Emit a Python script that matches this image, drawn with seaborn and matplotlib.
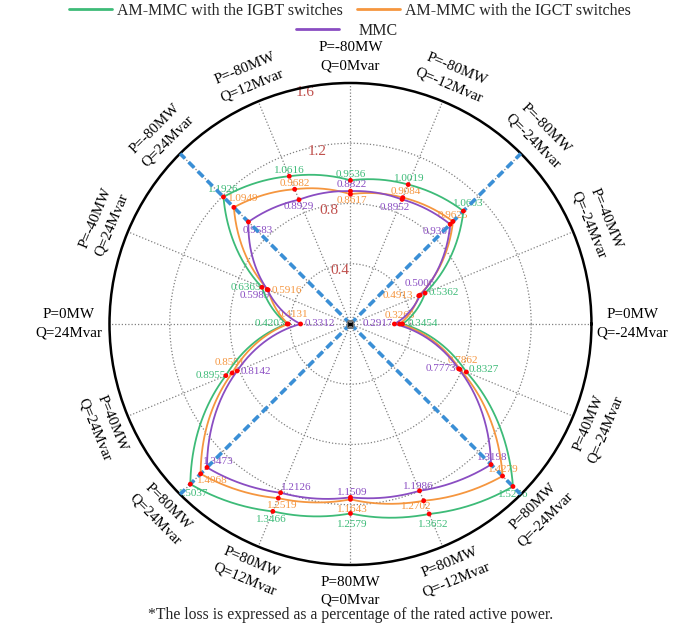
import numpy as np
import pandas as pd
import matplotlib
matplotlib.use("Agg")
import matplotlib.pyplot as plt
from matplotlib.lines import Line2D
import seaborn as sns

# Operating points, counter-clockwise starting at the east spoke
angles_deg = [0, 22.5, 45, 67.5, 90, 112.5, 135, 157.5,
              180, 202.5, 225, 247.5, 270, 292.5, 315, 337.5]
p_values = ["0", "-40", "-80", "-80", "-80", "-80", "-80", "-40",
            "0", "40", "80", "80", "80", "80", "80", "40"]
q_values = ["-24", "-24", "-24", "-12", "0", "12", "24", "24",
            "24", "24", "24", "12", "0", "-12", "-24", "-24"]

# Converter losses (% of rated active power)
loss_igbt = [0.3454, 0.5362, 1.0603, 1.0019, 0.9536, 1.0616, 1.1926, 0.6363,
             0.4203, 0.8955, 1.5037, 1.3466, 1.2579, 1.3652, 1.5256, 0.8327]
loss_igct = [0.3263, 0.4913, 0.9625, 0.9084, 0.8617, 0.9682, 1.0949, 0.5916,
             0.4131, 0.8501, 1.4068, 1.2519, 1.1643, 1.2702, 1.4279, 0.7862]
loss_mmc = [0.2917, 0.5006, 0.9361, 0.8952, 0.8822, 0.8929, 0.9583, 0.5989,
            0.3312, 0.8142, 1.3473, 1.2126, 1.1509, 1.1986, 1.3198, 0.7773]

series_names = ["AM-MMC with the IGBT switches",
                "AM-MMC with the IGCT switches",
                "MMC"]
series_values = [loss_igbt, loss_igct, loss_mmc]
colors = ["#3DBB78", "#F5963F", "#8A4DC2"]

r_ticks = [0.4, 0.8, 1.2, 1.6]

# Value-label offsets in pixels (right, up) for each series and spoke
label_offsets = [
    [(20, 0), (19, 1), (5, 8), (1, 6), (0, 6), (0, 6), (0, 7), (-16, 0),
     (-17, 0), (-15, 0), (3, -9), (-1, -8), (2, -11), (4, -11), (0, -8), (17, 2)],
    [(0, 8), (-21, 0), (0, 6), (3, 6), (1, -6), (0, 6), (9, 9), (19, -1),
     (5, 9), (-2, 10), (12, -7), (4, -7), (2, -10), (-7, -6), (1, 7), (3, 9)],
    [(-17, 0), (0, 12), (-12, -7), (-7, -8), (1, 7), (0, -7), (9, -9), (-12, -6),
     (19, 0), (19, -1), (11, 6), (16, 5), (2, 5), (-1, 4), (1, 7), (-18, 0)],
]

sns.set_theme(style="white")
plt.rcParams["font.family"] = ["Liberation Serif", "DejaVu Serif"]

fig = plt.figure(figsize=(6.96, 6.24), dpi=100)
ax = fig.add_axes([0.1573, 0.0946, 0.6925, 0.7724], projection="polar")

theta = np.deg2rad(angles_deg)

# Closed loops for each converter
frames = []
for name, vals in zip(series_names, series_values):
    t = np.append(theta, theta[0] + 2 * np.pi)
    r = np.append(vals, vals[0])
    frames.append(pd.DataFrame({"theta": t, "loss": r, "series": name}))
df = pd.concat(frames, ignore_index=True)

sns.lineplot(data=df, x="theta", y="loss", hue="series", hue_order=series_names,
             palette=colors, sort=False, estimator=None, legend=False,
             linewidth=1.3, ax=ax, zorder=4)
# follow the polar coordinates between operating points (spiral arcs)
for ln in ax.lines:
    ln.get_path()._interpolation_steps = 60

pts = pd.DataFrame({"theta": np.tile(theta, 3),
                    "loss": np.concatenate(series_values)})
sns.scatterplot(data=pts, x="theta", y="loss", color="#FF0000", s=12,
                edgecolor="none", legend=False, ax=ax, zorder=6)

# Diagonal reference lines
for a in [45, 135, 225, 315]:
    ax.plot([np.deg2rad(a)] * 2, [0, r_ticks[-1]], color="#3A8FD6", lw=2.6,
            linestyle=(0, (2.2, 1.4)), zorder=3, solid_capstyle="butt")

ax.plot([0], [0], marker="s", color="black", ms=5, mec="#777777", zorder=7)

ax.set_ylim(0, r_ticks[-1])
ax.set_xticks(theta)
ax.set_xticklabels([])
ax.set_yticks(r_ticks)
ax.set_yticklabels([])
ax.grid(True, color="#808080", linestyle=(0, (1, 1.6)), linewidth=0.9)
ax.spines["polar"].set_linewidth(1.8)
ax.spines["polar"].set_color("black")
ax.set_xlabel("")
ax.set_ylabel("")

# Radial scale labels, just inside each ring
for v in r_ticks:
    ax.text(np.deg2rad(101), v - 0.035, f"{v:.1f}", ha="center", va="center",
            fontsize=11, color="#C0504D", zorder=2)

# Value labels
for vals, offs, c in zip(series_values, label_offsets, colors):
    for t, v, (dx, dy) in zip(theta, vals, offs):
        ax.annotate(f"{v:.4f}", xy=(t, v), xytext=(dx, dy),
                    textcoords="offset pixels", ha="center", va="center",
                    fontsize=8, color=c, zorder=2)

# Operating point labels around the circle
for a, p, q in zip(angles_deg, p_values, q_values):
    a_n = a if a <= 180 else a - 360
    if a_n in (0, 180, 90, -90):
        rot = 0
    elif a_n > 0:
        rot = a_n - 90
    else:
        rot = a_n + 90
    rr = 1.87 if a_n in (0, 180) else 1.775
    ax.text(np.deg2rad(a), rr, f"P={p}MW\nQ={q}Mvar", rotation=rot,
            rotation_mode="anchor", ha="center", va="center",
            fontsize=10.8, linespacing=1.5, color="black")

# Legend split over two centred rows
h1 = [Line2D([], [], color=colors[0], lw=2), Line2D([], [], color=colors[1], lw=2)]
fig.legend(h1, series_names[:2], loc="center", bbox_to_anchor=(0.503, 0.983),
           ncol=2, frameon=False, fontsize=11.5, handlelength=2.7,
           handletextpad=0.3, columnspacing=0.9, borderpad=0, borderaxespad=0)
h2 = [Line2D([], [], color=colors[2], lw=2)]
fig.legend(h2, series_names[2:], loc="center", bbox_to_anchor=(0.498, 0.951),
           frameon=False, fontsize=11.5, handlelength=2.7, handletextpad=1.2,
           borderpad=0, borderaxespad=0)

fig.text(0.504, 0.014,
         "*The loss is expressed as a percentage of the rated active power.",
         ha="center", va="center", fontsize=11.3)

fig.savefig("out.png", dpi=100)
